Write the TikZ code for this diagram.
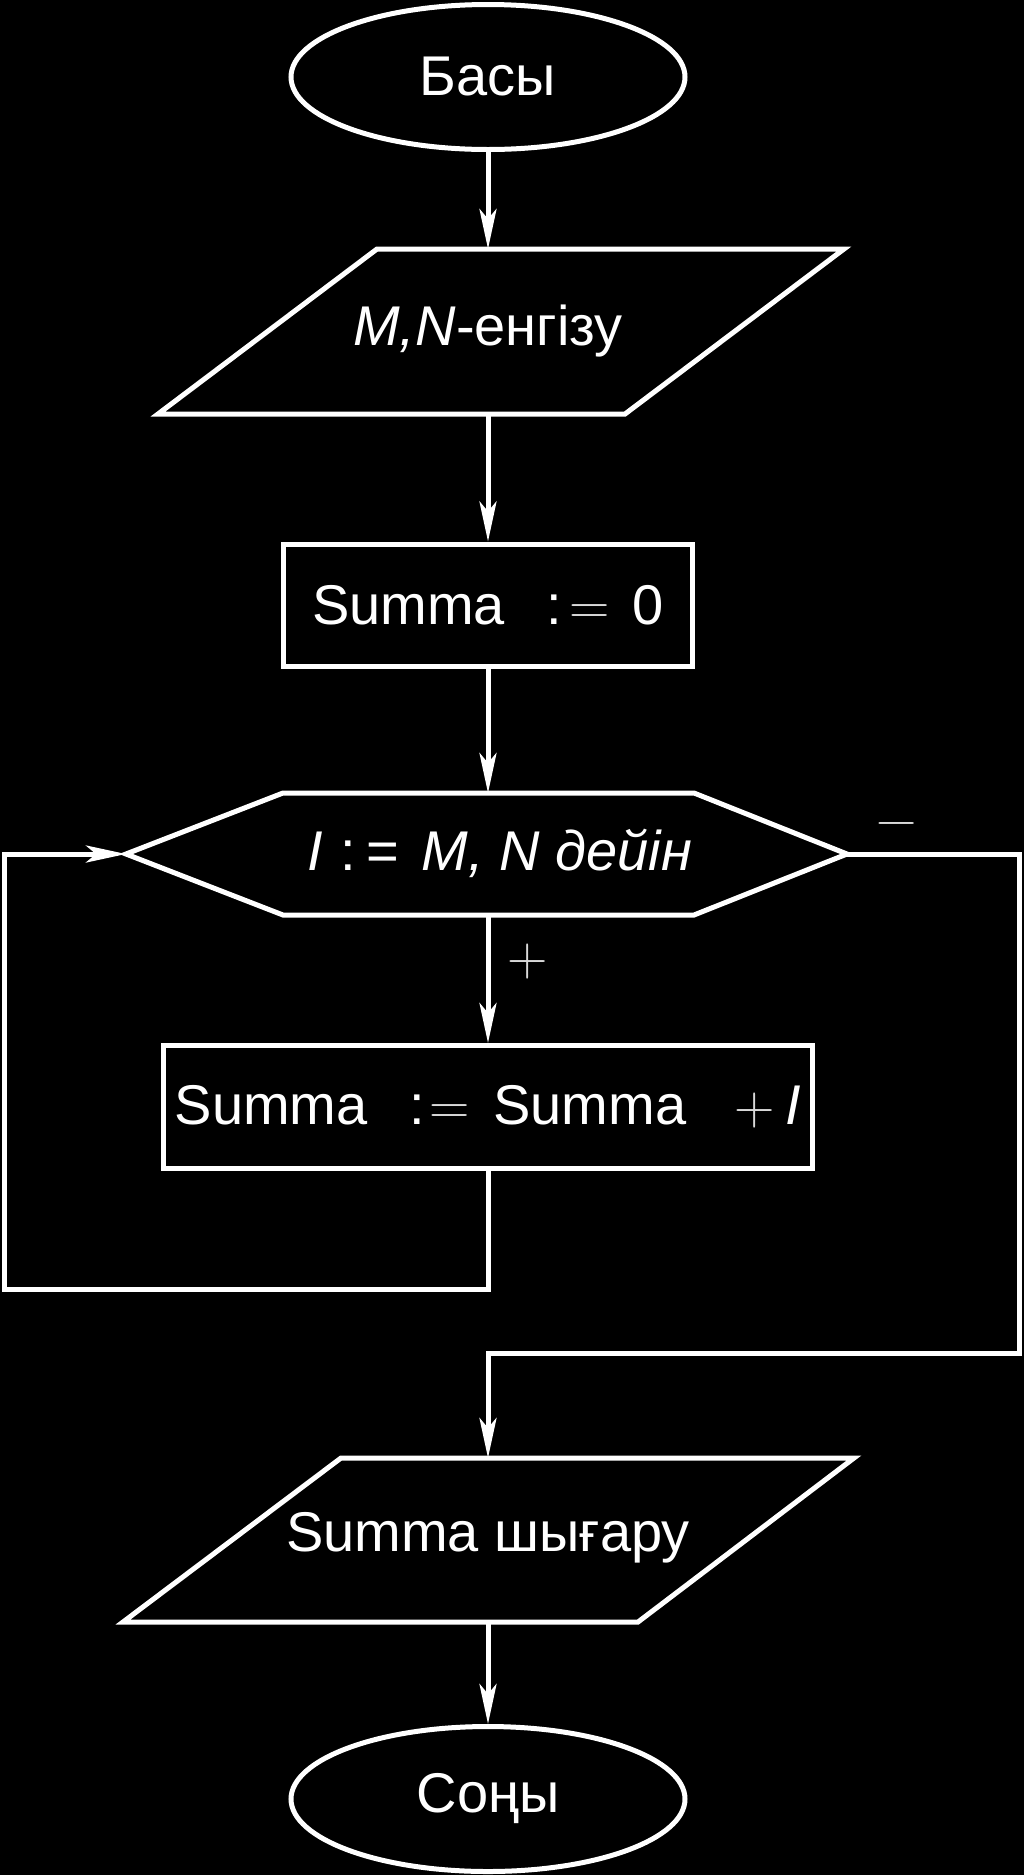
\documentclass[tikz,border=0pt]{standalone}
\usepackage{fontspec}
\setmainfont{Liberation Sans}
\newfontfamily\lmsym{Latin Modern Roman}
\usetikzlibrary{arrows.meta,shapes.geometric}
\begin{document}
\begin{tikzpicture}[x=1pt,y=-1pt,
  line/.style={draw=white, line width=5pt},
  arr/.style={line, -{Stealth[length=40pt,width=17pt,inset=10pt]}},
  txt/.style={text=white, font=\fontsize{56}{60}\selectfont, inner sep=0pt},
  blk/.style={draw=white, line width=5pt, text=white, font=\fontsize{56}{60}\selectfont, inner sep=0pt},
  thinlbl/.style={text=white!85!black, font=\fontsize{56}{60}\selectfont\lmsym, inner sep=0pt}
]
\fill[black] (0,0) rectangle (1024,1875);
\useasboundingbox (0,0) rectangle (1024,1875);

% start
\node[blk, ellipse, minimum width=394pt, minimum height=145pt] (start) at (488,77) {Басы};

% input
\draw[line, line join=miter] (377,249) -- (844,249) -- (625,414) -- (158,414) -- cycle;
\node[txt] (in) at (488,331) {\textit{M,N}-енгізу};
\coordinate (inT) at (488,249);
\coordinate (inB) at (488,414);

% init
\node[blk, rectangle, minimum width=409pt, minimum height=122pt] (init) at (488,605) {Summa\hspace{42pt}:\hspace{7pt}{\lmsym\color{white!85!black}=}\hspace{23pt}0};

% loop hexagon
\draw[line, line join=miter] (126,854) -- (283,793) -- (694,793) -- (847,854) -- (694,915) -- (283,915) -- cycle;
\node[txt] (loop) at (500,853) {\textit{I}\hspace{17pt}:\hspace{10pt}=\hspace{23pt}\textit{M, N дейін}};
\coordinate (loopT) at (488,793);
\coordinate (loopB) at (488,915);
\coordinate (loopL) at (126,854);
\coordinate (loopR) at (847,854);

% body
\node[blk, rectangle, minimum width=649pt, minimum height=123pt] (body) at (488,1107) {Summa\hspace{42pt}:\hspace{4pt}{\lmsym\color{white!85!black}=}\hspace{24pt}Summa\hspace{48pt}{\lmsym\color{white!85!black}+}\hspace{11pt}\textit{I}};

% output
\draw[line, line join=miter] (341,1458) -- (854,1458) -- (638,1622) -- (123,1622) -- cycle;
\node[txt] (out) at (488,1538) {Summa шығару};
\coordinate (outT) at (488,1458);
\coordinate (outB) at (488,1622);

% end
\node[blk, ellipse, minimum width=394pt, minimum height=145pt] (end) at (488,1799) {Соңы};

% branch labels
\node[thinlbl] (plus) at (528,962) {+};
\node[thinlbl] (minus) at (897,830) {−};

% connectors
\coordinate (lp) at (4,1289);
\coordinate (rp) at (1019,1353);
\draw[arr] (start) -- (inT);
\draw[arr] (inB) -- (init);
\draw[arr] (init) -- (loopT);
\draw[arr] (loopB) -- (body);
\draw[arr] (body.south) |- (lp) |- (loopL);
\draw[arr] (loopR) -| (rp) -| (outT);
\draw[arr] (outB) -- (end);
\end{tikzpicture}
\end{document}
